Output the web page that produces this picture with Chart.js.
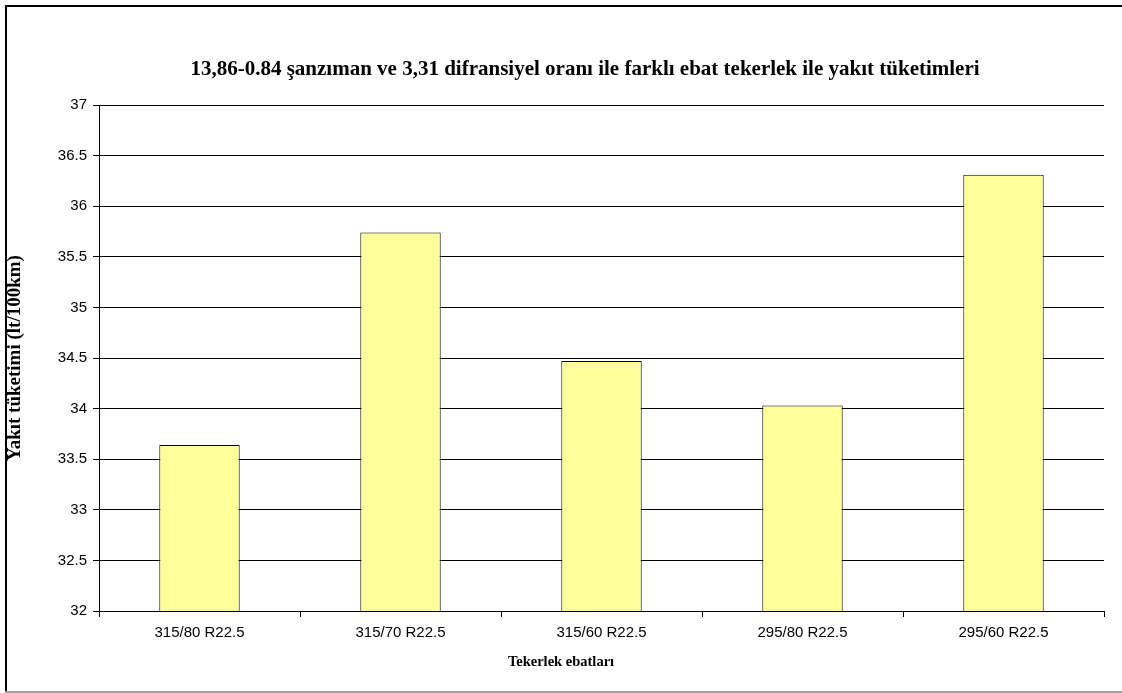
<!DOCTYPE html>
<html>
<head>
<meta charset="utf-8">
<script src="https://cdn.jsdelivr.net/npm/chart.js@4/dist/chart.umd.min.js"></script>
<style>
  html, body { margin: 0; padding: 0; background: #fff; }
  #wrap { position: relative; width: 1122px; height: 693px; }
</style>
</head>
<body>
<div id="wrap"><canvas id="c" width="1122" height="693"></canvas></div>
<script>
// Tire sizes and fuel consumption (lt/100km)
const categories = ['315/80 R22.5', '315/70 R22.5', '315/60 R22.5', '295/80 R22.5', '295/60 R22.5'];
const consumption = [33.64, 35.74, 34.47, 34.03, 36.31];
const yTicks = [32, 32.5, 33, 33.5, 34, 34.5, 35, 35.5, 36, 36.5, 37];

const titleText = '13,86-0.84 şanzıman ve 3,31 difransiyel oranı ile farklı ebat tekerlek ile yakıt tüketimleri';
const yTitle = 'Yakıt tüketimi (lt/100km)';
const xTitle = 'Tekerlek ebatları';

const SERIF = '"Liberation Serif", "Times New Roman", serif';
const SANS = '"Liberation Sans", Arial, sans-serif';

// Frame around the whole chart: dark left/top edge, light bottom edge
const framePlugin = {
  id: 'frame',
  beforeDraw(chart) {
    const ctx = chart.ctx;
    ctx.save();
    ctx.fillStyle = '#ffffff';
    ctx.fillRect(0, 0, chart.width, chart.height);
    ctx.fillStyle = '#000000';
    ctx.fillRect(5, 5, chart.width - 5, 2);
    ctx.fillRect(5, 5, 2, chart.height - 6);
    ctx.fillStyle = '#a0a0a0';
    ctx.fillRect(5, chart.height - 2, chart.width - 5, 2);
    ctx.restore();
  }
};

// Chart title and axis titles, placed freely like the spreadsheet layout
const titlesPlugin = {
  id: 'titles',
  afterDraw(chart) {
    const ctx = chart.ctx;
    const area = chart.chartArea;
    ctx.save();
    ctx.fillStyle = '#000';
    ctx.textAlign = 'center';
    ctx.textBaseline = 'middle';

    ctx.font = 'bold 21px ' + SERIF;
    ctx.fillText(titleText, 585, 70);

    ctx.font = 'bold 14.5px ' + SERIF;
    ctx.fillText(xTitle, 561, 662);

    ctx.translate(15, (area.top + area.bottom) / 2);
    ctx.rotate(-Math.PI / 2);
    ctx.font = 'bold 19px ' + SERIF;
    ctx.fillText(yTitle, 0, 0);
    ctx.restore();
  }
};

new Chart(document.getElementById('c'), {
  type: 'bar',
  data: {
    labels: categories,
    datasets: [{
      data: consumption,
      backgroundColor: '#FFFF99',
      borderColor: '#000000',
      borderWidth: 1,
      borderSkipped: 'bottom',
      categoryPercentage: 1.0,
      barPercentage: 0.4
    }]
  },
  options: {
    responsive: false,
    animation: false,
    devicePixelRatio: 1,
    layout: { padding: { left: 4, right: 18, top: 105, bottom: 42 } },
    plugins: {
      legend: { display: false },
      tooltip: { enabled: false },
      title: { display: false }
    },
    scales: {
      x: {
        offset: true,
        grid: {
          display: true,
          offset: true,
          drawOnChartArea: false,
          drawTicks: true,
          tickLength: 6,
          color: '#000'
        },
        border: { display: true, color: '#000', width: 1 },
        ticks: {
          color: '#000',
          padding: 7,
          maxRotation: 0,
          font: { family: SANS, size: 15 }
        },
        afterFit(axis) { axis.height = 40; }
      },
      y: {
        min: 32,
        max: 37,
        afterBuildTicks(axis) { axis.ticks = yTicks.map(v => ({ value: v })); },
        grid: {
          color: '#000',
          lineWidth: 1,
          drawTicks: true,
          tickLength: 6
        },
        border: { display: true, color: '#000', width: 1 },
        ticks: {
          color: '#000',
          padding: 6,
          callback: v => String(v),
          font: { family: SANS, size: 15 }
        },
        afterFit(axis) { axis.width = 95; }
      }
    }
  },
  plugins: [framePlugin, titlesPlugin]
});
</script>
</body>
</html>
